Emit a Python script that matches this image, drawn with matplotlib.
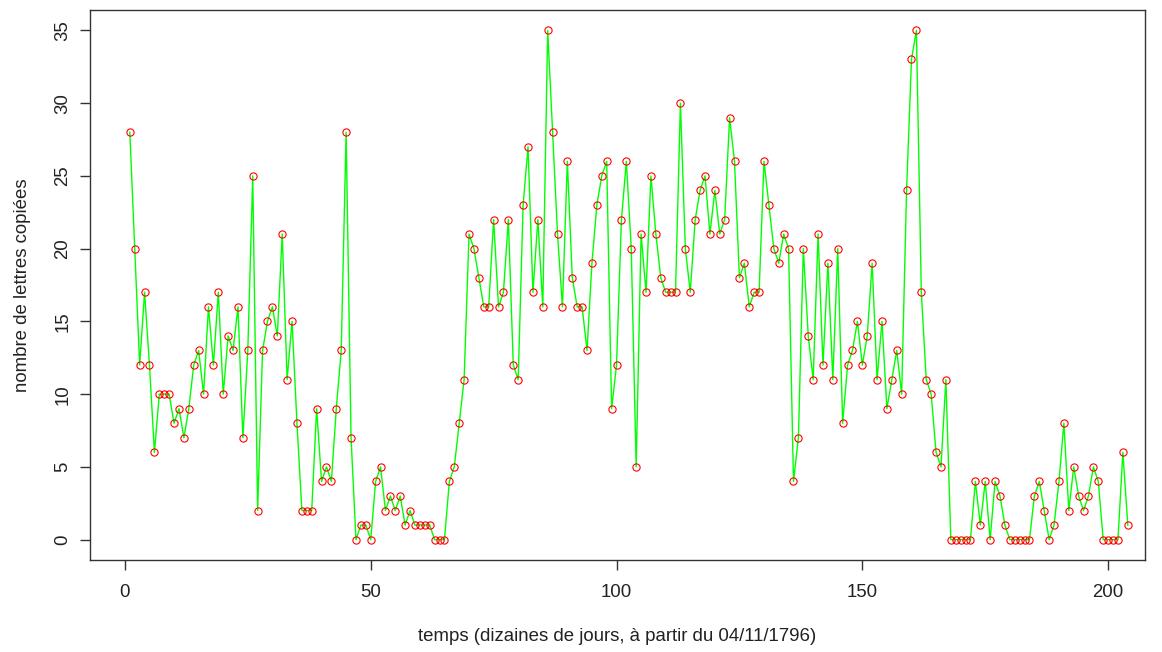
import numpy as np
import matplotlib
matplotlib.use("Agg")
from matplotlib import pyplot as plt

# nombre de lettres copiees par dizaine de jours
lettres = [28, 20, 12, 17, 12, 6, 10, 10, 10, 8,
           9, 7, 9, 12, 13, 10, 16, 12, 17, 10,
           14, 13, 16, 7, 13, 25, 2, 13, 15, 16,
           14, 21, 11, 15, 8, 2, 2, 2, 9, 4,
           5, 4, 9, 13, 28, 7, 0, 1, 1, 0,
           4, 5, 2, 3, 2, 3, 1, 2, 1, 1,
           1, 1, 0, 0, 0, 4, 5, 8, 11, 21,
           20, 18, 16, 16, 22, 16, 17, 22, 12, 11,
           23, 27, 17, 22, 16, 35, 28, 21, 16, 26,
           18, 16, 16, 13, 19, 23, 25, 26, 9, 12,
           22, 26, 20, 5, 21, 17, 25, 21, 18, 17,
           17, 17, 30, 20, 17, 22, 24, 25, 21, 24,
           21, 22, 29, 26, 18, 19, 16, 17, 17, 26,
           23, 20, 19, 21, 20, 4, 7, 20, 14, 11,
           21, 12, 19, 11, 20, 8, 12, 13, 15, 12,
           14, 19, 11, 15, 9, 11, 13, 10, 24, 33,
           35, 17, 11, 10, 6, 5, 11, 0, 0, 0,
           0, 0, 4, 1, 4, 0, 4, 3, 1, 0,
           0, 0, 0, 0, 3, 4, 2, 0, 1, 4,
           8, 2, 5, 3, 2, 3, 5, 4, 0, 0,
           0, 0, 6, 1]
temps = np.arange(1, len(lettres) + 1)

xticks = [0, 50, 100, 150, 200]
yticks = [0, 5, 10, 15, 20, 25, 30, 35]

plt.rcParams['font.family'] = ['Liberation Sans', 'DejaVu Sans']
fs = 13.4

fig = plt.figure(figsize=(11.62, 6.52), dpi=100)
ax = fig.add_axes([90 / 1162, 92 / 652, 1055 / 1162, 550 / 652])

ax.plot(temps, lettres, color='#00ff00', linewidth=1.0, zorder=1)
ax.plot(temps, lettres, linestyle='none', marker='o', markersize=5.2,
        markerfacecolor='none', markeredgecolor='#ff0000', markeredgewidth=0.8, zorder=2)

ax.set_xlim(-7.1, 207.5)
ax.set_ylim(-0.04 * 35, 35 * 1.04)

ax.set_xticks(xticks)
ax.set_yticks(yticks)
ax.set_yticklabels([str(v) for v in yticks], rotation=90, va='center')
ax.tick_params(axis='both', direction='out', length=7, width=1, labelsize=fs,
               color='#333333', labelcolor='#222222')
ax.tick_params(axis='x', pad=10)
ax.tick_params(axis='y', pad=6.5)
for s in ax.spines.values():
    s.set_color('#333333')
    s.set_linewidth(1)

ax.set_xlabel("temps (dizaines de jours, à partir du 04/11/1796)", fontsize=fs,
              color='#222222', labelpad=20)
ax.set_ylabel("nombre de lettres copiées", fontsize=fs, color='#222222', labelpad=16.5)

fig.savefig("out.png", dpi=100)
